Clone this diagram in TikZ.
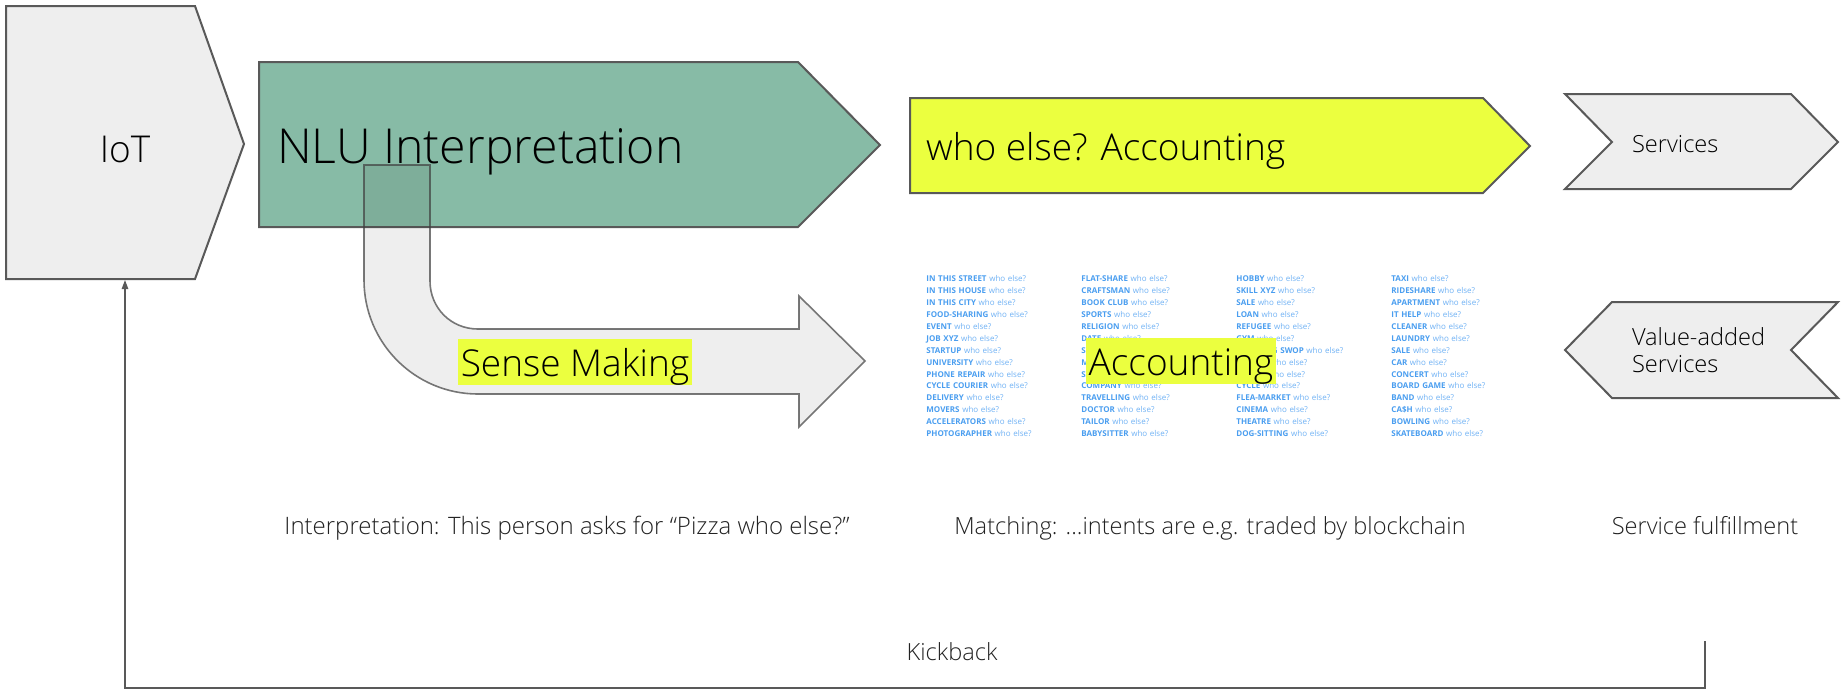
\documentclass[tikz,border=0pt]{standalone}
\usepackage{fontspec}
\setmainfont{Open Sans}
\IfFontExistsTF{Open Sans Light}{\newfontfamily\thinfont{Open Sans Light}}{\newfontfamily\thinfont{Open Sans}}
\usepackage{xcolor}
\usepackage{tikz}
\usetikzlibrary{arrows.meta}
\usetikzlibrary{matrix}
\definecolor{boxgray}{RGB}{238, 238, 238}
\definecolor{edgegray}{RGB}{89, 89, 89}
\definecolor{nlugreen}{RGB}{135, 187, 166}
\definecolor{markyellow}{RGB}{235, 255, 63}
\definecolor{tagblue}{RGB}{74, 158, 240}
\definecolor{whoblue}{RGB}{112, 178, 245}
\definecolor{textgray}{RGB}{34, 34, 34}
\newcommand{\intent}[1]{{\bfseries\color{tagblue}#1} {\color{whoblue}who else?}}

\begin{document}
\begin{tikzpicture}[x=0.5pt, y=-0.5pt,
            block/.style = {draw=edgegray, line width=1pt, fill=boxgray},
            big/.style = {font=\thinfont\fontsize{18.5}{22}\selectfont, text=black},
            small/.style = {font=\thinfont\fontsize{11.8}{13.8}\selectfont, text=textgray},
            marker/.style = {big, fill=markyellow, inner xsep=1.25pt, inner ysep=0pt, text height=18.5pt, text depth=4.5pt},
            cell/.style = {font=\fontsize{4}{5}\selectfont, inner sep=0pt, text width=72pt, align=left, text height=4.2pt, text depth=1.75pt},
            kick/.style = {-{Triangle[length=4.5pt, width=3.2pt]}, draw=edgegray, line width=0.75pt}]
        \fill[white] (0,0) rectangle (1845,693);

        % IoT and NLU
        \draw[block] (6,6) -- (195,6) -- (244,144) -- (195,279) -- (6,279) -- cycle;
        \node[big, anchor=base] (iot) at (125,162) {IoT};
        \draw[block, fill=nlugreen] (259,62) -- (798,62) -- (880,145) -- (798,227) -- (259,227) -- cycle;
        \node[anchor=base west, font=\thinfont\fontsize{24.1}{28}\selectfont] (nlu) at (270,163) {NLU Interpretation};

        % bent arrow, drawn over the NLU arrow
        \draw[draw=black!75, draw opacity=0.7, line width=0.8pt, fill=black, fill opacity=0.067]
            (364,165) -- (364,280) .. controls (364,343) and (415,394) .. (478,394) -- (799,394)
            -- (799,427) -- (865,361) -- (799,296) -- (799,329) -- (478,329)
            .. controls (451,329) and (430,308) .. (430,281) -- (430,165) -- cycle;
        \node[marker, anchor=base] (sense) at (575,376) {Sense Making};

        \draw[block, fill=markyellow] (910,98) -- (1483,98) -- (1530,146) -- (1483,193) -- (910,193) -- cycle;
        \node[big, anchor=base west] (whoelse) at (919,160) {who else? Accounting};

        \matrix (intents) [matrix of nodes, anchor=north west, inner sep=0pt, column sep=5.5pt, row sep=0pt, nodes={cell}] at (926,273) {
            \intent{IN THIS STREET} & \intent{FLAT-SHARE} & \intent{HOBBY} & \intent{TAXI} \\
            \intent{IN THIS HOUSE} & \intent{CRAFTSMAN} & \intent{SKILL XYZ} & \intent{RIDESHARE} \\
            \intent{IN THIS CITY} & \intent{BOOK CLUB} & \intent{SALE} & \intent{APARTMENT} \\
            \intent{FOOD-SHARING} & \intent{SPORTS} & \intent{LOAN} & \intent{IT HELP} \\
            \intent{EVENT} & \intent{RELIGION} & \intent{REFUGEE} & \intent{CLEANER} \\
            \intent{JOB XYZ} & \intent{DATE} & \intent{GYM} & \intent{LAUNDRY} \\
            \intent{STARTUP} & \intent{SINGING} & \intent{CLOTHING SWOP} & \intent{SALE} \\
            \intent{UNIVERSITY} & \intent{MUSIC} & \intent{DINNER} & \intent{CAR} \\
            \intent{PHONE REPAIR} & \intent{SAILING} & \intent{TENNIS} & \intent{CONCERT} \\
            \intent{CYCLE COURIER} & \intent{COMPANY} & \intent{CYCLE} & \intent{BOARD GAME} \\
            \intent{DELIVERY} & \intent{TRAVELLING} & \intent{FLEA-MARKET} & \intent{BAND} \\
            \intent{MOVERS} & \intent{DOCTOR} & \intent{CINEMA} & \intent{CA\$H} \\
            \intent{ACCELERATORS} & \intent{TAILOR} & \intent{THEATRE} & \intent{BOWLING} \\
            \intent{PHOTOGRAPHER} & \intent{BABYSITTER} & \intent{DOG-SITTING} & \intent{SKATEBOARD} \\
        };
        \node[marker, anchor=base] (accounting) at (1181,375) {Accounting};

        % services
        \draw[block] (1565,94) -- (1791,94) -- (1838,142) -- (1791,189) -- (1565,189) -- (1612,142) -- cycle;
        \node[small, text=black, anchor=base west] (services) at (1625,152) {Services};
        \draw[block] (1612,302) -- (1838,302) -- (1791,350) -- (1838,398) -- (1612,398) -- (1565,350) -- cycle;
        \node[small, text=black, anchor=west, align=left] (valueadded) at (1625,350) {Value-added\\Services};

        \node[small, font=\thinfont\fontsize{12}{14}\selectfont, anchor=base] (interp) at (567,534) {Interpretation: This person asks for “Pizza who else?”};
        \node[small, anchor=base] (matching) at (1210,534) {Matching: ...intents are e.g. traded by blockchain};
        \node[small, anchor=base] (fulfil) at (1705,534) {Service fulfillment};

        % kickback loop
        \coordinate (iotfoot) at (125,280);
        \coordinate (kickfrom) at (1705,641);
        \coordinate (kickcorner) at (1705,688);
        \draw[kick] (kickfrom) -- (kickcorner) -| (iotfoot);
        \node[small, anchor=base] (kickback) at (952,660) {Kickback};
\end{tikzpicture}
\end{document}
